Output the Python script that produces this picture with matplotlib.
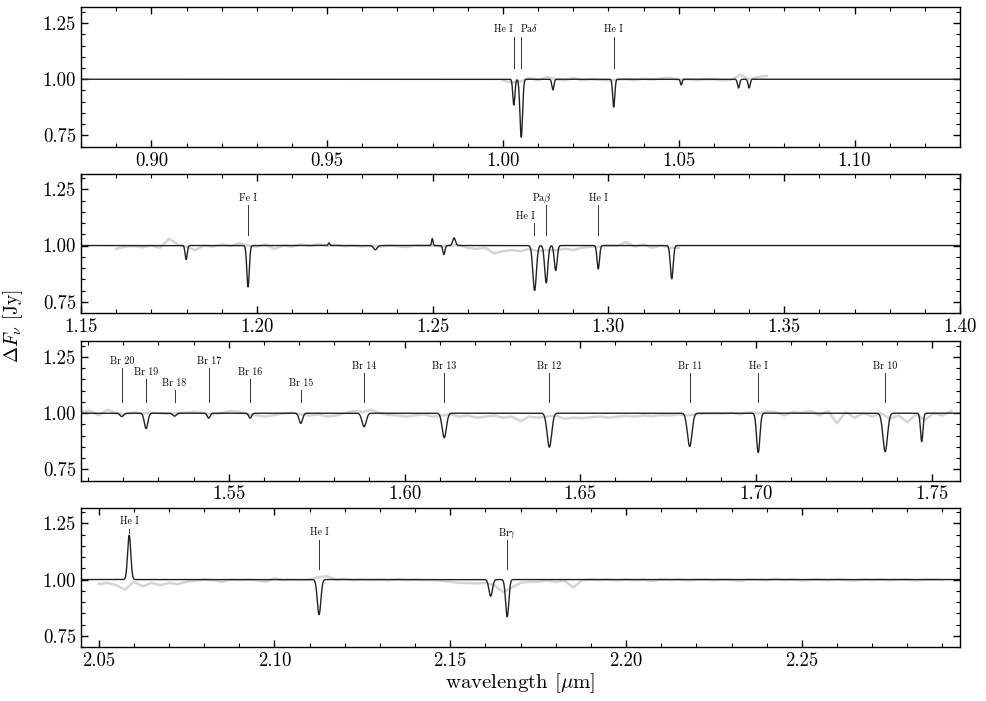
import numpy as np
import matplotlib
matplotlib.use("Agg")
import matplotlib.pyplot as plt
from matplotlib.ticker import MultipleLocator

plt.rcParams["font.family"] = "serif"
plt.rcParams["font.serif"] = ["cmr10"]
plt.rcParams["mathtext.fontset"] = "cm"
plt.rcParams["axes.formatter.use_mathtext"] = True

# x ranges of the four panels (micron)
xlims = [(0.88, 1.13), (1.15, 1.40), (1.508, 1.758), (2.045, 2.295)]

# observed spectra (gray), sampled every 0.0025 micron from the start value
obs_start = [1.000, 1.160, 1.508, 2.050]
obs_step = 0.0025
obs1 = [0.995, 0.985, 0.99, 1.005, 0.995, 1.01, 1.0, 0.995, 1.005, 0.995,
        1.0, 0.997, 0.995, 0.998, 1.0, 0.996, 1.002, 0.998, 1.004, 1.006,
        0.998, 1.0, 0.996, 0.999, 1.0, 0.995, 0.998, 1.02, 1.0, 1.01, 1.015]
obs2 = [0.985, 0.995, 0.998, 0.992, 1.0, 0.99, 1.03, 1.005, 0.995, 0.98,
        1.0, 0.995, 1.005, 0.998, 1.01, 1.0, 0.995, 1.005, 0.985, 1.0,
        0.995, 1.005, 0.998, 1.006, 1.0, 1.003, 0.997, 1.0, 0.996, 0.999,
        0.995, 1.0, 0.997, 0.993, 1.0, 0.998, 1.0, 0.995, 1.0, 1.002,
        0.99, 0.985, 0.99, 0.965, 0.975, 0.98, 0.975, 0.985, 0.975, 0.98,
        0.978, 0.985, 0.98, 0.99, 0.995, 0.995, 1.0, 0.998, 1.015, 0.995,
        1.005, 0.99, 1.0, 0.99, 0.99]
obs3 = [1.005, 1.012, 0.99, 1.015, 1.0, 0.995, 1.003, 0.998, 1.002, 1.0,
        0.997, 1.0, 1.003, 1.006, 1.0, 0.995, 1.0, 1.01, 1.005, 0.995,
        0.99, 0.985, 0.992, 0.998, 1.003, 0.995, 0.99, 0.995, 0.985, 0.99,
        1.0, 1.01, 1.005, 1.015, 1.0, 0.992, 0.99, 0.985, 0.99, 0.995,
        0.985, 0.99, 0.995, 0.985, 0.99, 0.98, 0.985, 0.99, 0.98, 0.985,
        0.965, 0.985, 0.98, 0.985, 0.99, 0.975, 0.98, 0.978, 0.982, 0.985,
        0.98, 0.985, 0.988, 0.985, 0.99, 0.987, 0.992, 0.99, 0.995, 0.99,
        0.995, 0.998, 1.0, 0.998, 1.002, 0.995, 1.005, 1.0, 1.008, 1.005,
        0.99, 1.005, 1.002, 1.01, 0.99, 1.01, 0.955, 1.005, 0.98, 1.0,
        0.985, 1.0, 0.975, 0.99, 0.96, 0.995, 0.97, 1.0, 0.99, 1.01]
obs4 = [0.98, 0.985, 0.975, 0.955, 0.99, 0.97, 0.985, 0.975, 0.985, 0.98,
        0.99, 0.995, 1.0, 0.997, 0.99, 1.0, 0.998, 1.0, 0.997, 0.99,
        1.005, 0.998, 1.0, 0.998, 1.0, 1.01, 1.015, 1.0, 1.003, 0.997,
        1.0, 0.998, 1.0, 0.997, 1.002, 0.998, 1.0, 0.997, 0.998, 0.995,
        0.99, 0.985, 0.985, 0.983, 0.985, 0.975, 0.945, 0.965, 0.985, 0.99,
        0.99, 0.995, 0.99, 0.995, 0.965, 0.997, 1.0, 0.998, 1.0, 0.995,
        1.0, 0.997, 0.999, 0.994, 1.0, 0.998, 1.0, 0.996, 0.999, 1.0,
        0.997, 1.0, 0.998, 0.995, 1.0, 0.999, 0.997, 1.002, 0.998, 1.0,
        0.996, 0.999, 1.0, 0.997, 1.0, 0.998, 0.995, 1.0, 0.998, 1.0,
        0.997, 0.999, 1.0, 0.996, 0.999, 1.0, 0.998]
observed = [obs1, obs2, obs3, obs4]

# model lines (black): centre [micron], peak flux, gaussian sigma [micron]
line_c1 = [1.0031, 1.0052, 1.0142, 1.0315, 1.0507, 1.0670, 1.0700]
line_f1 = [0.885, 0.742, 0.953, 0.876, 0.975, 0.961, 0.961]
line_s1 = [0.0003, 0.00037, 0.0003, 0.0003, 0.00025, 0.0003, 0.0003]

line_c2 = [1.1799, 1.1975, 1.2205, 1.2337, 1.2499, 1.2532, 1.2561,
           1.2790, 1.2823, 1.2850, 1.2971, 1.3180]
line_f2 = [0.938, 0.816, 1.012, 0.981, 1.031, 0.960, 1.034,
           0.800, 0.834, 0.889, 0.896, 0.852]
line_s2 = [0.0003, 0.00035, 0.0002, 0.0005, 0.0002, 0.0003, 0.0004,
           0.0005, 0.00045, 0.0004, 0.00035, 0.0004]

line_c3 = [1.5196, 1.5265, 1.5346, 1.5443, 1.5561, 1.5705, 1.5885,
           1.6113, 1.6412, 1.6811, 1.7006, 1.7367, 1.7471]
line_f3 = [0.985, 0.932, 0.987, 0.978, 0.978, 0.955, 0.940,
           0.891, 0.849, 0.852, 0.825, 0.829, 0.874]
line_s3 = [0.0005, 0.0005, 0.0005, 0.0004, 0.0004, 0.0005, 0.0006,
           0.0006, 0.00065, 0.00065, 0.00047, 0.00065, 0.00035]

line_c4 = [2.0587, 2.1127, 2.1615, 2.1662]
line_f4 = [1.197, 0.844, 0.926, 0.834]
line_s4 = [0.00045, 0.0005, 0.0005, 0.00045]

centres = [line_c1, line_c2, line_c3, line_c4]
peaks = [line_f1, line_f2, line_f3, line_f4]
sigmas = [line_s1, line_s2, line_s3, line_s4]

# line identifications
id_names = [
    ["He I", r"Pa$\delta$", "He I"],
    ["Fe I", "He I", r"Pa$\beta$", "He I"],
    ["Br 20", "Br 19", "Br 18", "Br 17", "Br 16", "Br 15", "Br 14",
     "Br 13", "Br 12", "Br 11", "He I", "Br 10"],
    ["He I", "He I", r"Br$\gamma$"],
]
id_wave = [
    [1.0031, 1.0052, 1.0315],
    [1.1975, 1.2789, 1.2822, 1.2971],
    [1.5196, 1.5265, 1.5346, 1.5443, 1.5561, 1.5705, 1.5885,
     1.6113, 1.6412, 1.6811, 1.7006, 1.7367],
    [2.0587, 2.1127, 2.1662],
]

# layout of the identification markers: top / bottom of the tick and
# horizontal shift of the label text (micron)
id_top = [
    [1.19, 1.19, 1.19],
    [1.179, 1.098, 1.179, 1.179],
    [1.200, 1.151, 1.104, 1.200, 1.151, 1.104, 1.178,
     1.178, 1.178, 1.178, 1.178, 1.178],
    [1.227, 1.178, 1.178],
]
id_bottom = [
    [1.05, 1.05, 1.05],
    [1.046, 1.046, 1.046, 1.046],
    [1.052] * 12,
    [1.208, 1.049, 1.049],
]
id_shift = [
    [-0.0030, 0.0023, 0.0],
    [0.0, -0.0025, -0.0012, 0.0],
    [0.0] * 12,
    [0.0, 0.0, 0.0],
]

fig = plt.figure(figsize=(9.87, 7.01), dpi=100)
bottoms = [0.7907, 0.5535, 0.3143, 0.0770]

for i in range(4):
    ax = fig.add_axes([0.0821, bottoms[i], 0.8906, 0.1989])
    x0, x1 = xlims[i]

    # gray observed spectrum
    wl = obs_start[i] + obs_step * np.arange(len(observed[i]))
    ax.plot(wl, observed[i], color="#d4d4d4", lw=1.8, zorder=1)

    # black model: unit continuum plus gaussian lines
    grid = np.linspace(x0, x1, 6000)
    model = np.ones_like(grid)
    for c, f, s in zip(centres[i], peaks[i], sigmas[i]):
        model += (f - 1.0) * np.exp(-0.5 * ((grid - c) / s) ** 2)
    ax.plot(grid, model, color="#222222", lw=1.0, zorder=2)

    # identifications
    for name, w, top, bot, dx in zip(id_names[i], id_wave[i], id_top[i],
                                     id_bottom[i], id_shift[i]):
        ax.plot([w, w], [bot, top], color="#333333", lw=0.7, zorder=3)
        ax.text(w + dx, top + 0.018, name, ha="center", va="baseline",
                fontsize=7.2)

    ax.set_xlim(x0, x1)
    ax.set_ylim(0.70, 1.32)
    ax.xaxis.set_major_locator(MultipleLocator(0.05))
    ax.xaxis.set_minor_locator(MultipleLocator(0.01))
    ax.yaxis.set_major_locator(MultipleLocator(0.25))
    ax.yaxis.set_minor_locator(MultipleLocator(0.05))
    ax.xaxis.set_major_formatter(plt.FormatStrFormatter("%.2f"))
    ax.yaxis.set_major_formatter(plt.FormatStrFormatter("%.2f"))
    ax.tick_params(which="both", direction="in", top=True, right=True,
                   labelsize=13.5)
    ax.tick_params(which="major", length=5, width=1)
    ax.tick_params(which="minor", length=3, width=0.8)
    for sp in ax.spines.values():
        sp.set_linewidth(1.0)
    if i == 3:
        ax.set_xlabel(r"wavelength [$\mu$m]", fontsize=15, labelpad=1)

fig.text(0.013, 0.535, r"$\Delta F_\nu$ [Jy]", rotation=90, ha="center",
         va="center", fontsize=14)

fig.savefig("out.png", dpi=100)
